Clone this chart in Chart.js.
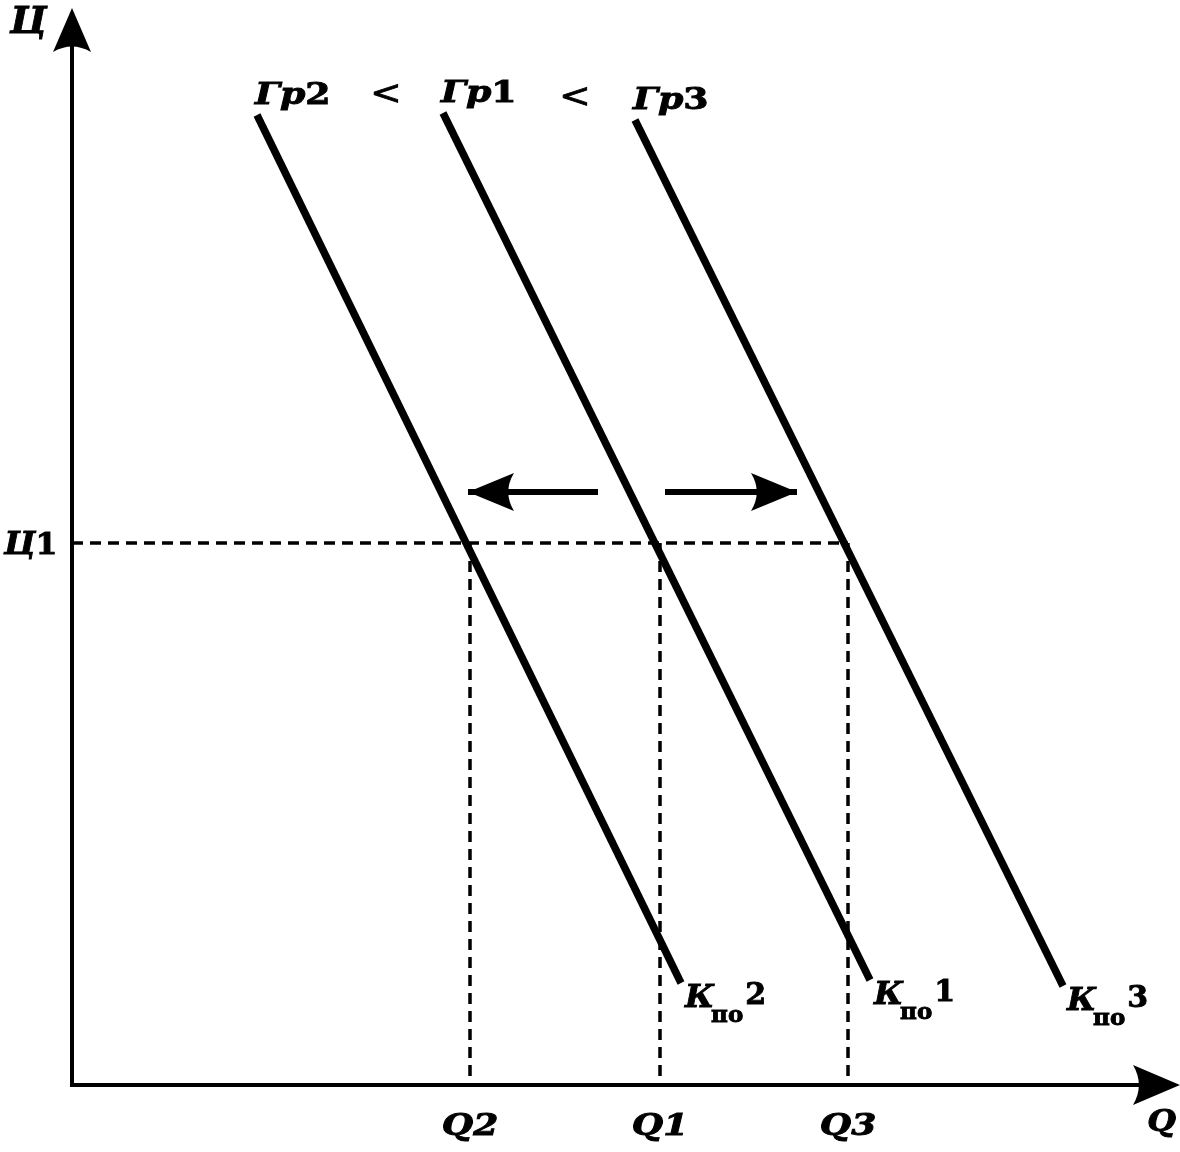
<!DOCTYPE html>
<html><head><meta charset="utf-8">
<script src="https://cdn.jsdelivr.net/npm/chart.js@4/dist/chart.umd.min.js"></script>
<style>html,body{margin:0;padding:0;background:#fff}#wrap{width:1180px;height:1152px;position:relative}</style>
</head><body><div id="wrap"><canvas id="c"></canvas></div>
<script>
// ---- data ----
const curveNames = ['Гр2', 'Гр1', 'Гр3'];
const curveIndex = ['2', '1', '3'];
const curveStartQ = [18.5, 37.1, 56.3];
const curveStartP = [97.0, 97.2, 96.5];
const curveEndQ = [60.9, 79.8, 99.1];
const curveEndP = [10.2, 10.5, 9.9];
const priceLevel = 54.2;
const priceLabel = 'Ц1';
const quantityValues = [39.8, 58.8, 77.6];
const quantityLabels = ['Q2', 'Q1', 'Q3'];
const shiftArrowP = 59.3;
const shiftArrowFrom = [52.6, 59.3];
const shiftArrowTo = [39.6, 72.5];
const axisTitleY = 'Ц';
const axisTitleX = 'Q';
const compareSign = '<';
const curveMarkK = 'К';
const curveMarkSub = 'по';

const BLACK = '#000';
const FONT = '"DejaVu Serif", serif';

const datasets = [];
datasets.push({data: [{x: 0, y: priceLevel}, {x: Math.max(...quantityValues), y: priceLevel}],
  borderColor: BLACK, borderWidth: 3.5, borderDash: [11, 7], pointRadius: 0, showLine: true});
quantityValues.forEach(q => datasets.push({data: [{x: q, y: priceLevel}, {x: q, y: 0}],
  borderColor: BLACK, borderWidth: 3.5, borderDash: [11, 7], pointRadius: 0, showLine: true}));
curveNames.forEach((n, i) => datasets.push({label: n,
  data: [{x: curveStartQ[i], y: curveStartP[i]}, {x: curveEndQ[i], y: curveEndP[i]}],
  borderColor: BLACK, borderWidth: 7.5, pointRadius: 0, showLine: true, borderCapStyle: 'butt'}));
shiftArrowFrom.forEach((f, i) => datasets.push({data: [{x: f, y: shiftArrowP}, {x: shiftArrowTo[i], y: shiftArrowP}],
  borderColor: BLACK, borderWidth: 6, pointRadius: 0, showLine: true}));

function head(ctx, tx, ty, dx, dy, len, half) {
  const bx = tx - dx * len, by = ty - dy * len;
  ctx.beginPath();
  ctx.moveTo(tx, ty);
  ctx.lineTo(bx - dy * half, by + dx * half);
  ctx.quadraticCurveTo(bx + dx * len * 0.25, by + dy * len * 0.25, bx + dy * half, by - dx * half);
  ctx.closePath();
  ctx.fill();
}

function txt(ctx, s, x, y, font, sx, align) {
  ctx.font = font;
  const w = ctx.measureText(s).width * sx;
  const x0 = align === 'center' ? x - w / 2 : align === 'right' ? x - w : x;
  ctx.save();
  ctx.translate(x0, y); ctx.scale(sx, 1);
  ctx.textAlign = 'left'; ctx.textBaseline = 'alphabetic';
  ctx.fillText(s, 0, 0);
  ctx.lineWidth = 0.9; ctx.strokeText(s, 0, 0);
  ctx.restore();
  return w;
}

const decor = {
  id: 'decor',
  afterDatasetsDraw(chart) {
    const ctx = chart.ctx, xs = chart.scales.x, ys = chart.scales.y;
    const X = v => xs.getPixelForValue(v), Y = v => ys.getPixelForValue(v);
    ctx.save();
    ctx.fillStyle = BLACK; ctx.strokeStyle = BLACK;
    // axes
    const ox = X(0), oy = Y(0);
    ctx.lineWidth = 4; ctx.lineCap = 'butt';
    ctx.beginPath(); ctx.moveTo(ox, oy + 2); ctx.lineTo(ox, Y(ys.max) + 30); ctx.stroke();
    ctx.beginPath(); ctx.moveTo(ox - 2, oy); ctx.lineTo(X(xs.max) - 30, oy); ctx.stroke();
    head(ctx, ox, Y(ys.max) - 2, 0, -1, 44, 19);
    head(ctx, X(xs.max) + 8, oy, 1, 0, 47, 20);
    // shift arrow heads
    shiftArrowTo.forEach((t, i) => {
      const d = Math.sign(t - shiftArrowFrom[i]);
      head(ctx, X(t), Y(shiftArrowP), d, 0, 46, 19);
    });
    // axis titles
    txt(ctx, axisTitleY, 10, 33, 'italic bold 38px ' + FONT, 1.0, 'left');
    txt(ctx, axisTitleX, X(xs.max) + 4, oy + 46, 'italic bold 30px ' + FONT, 1.1, 'right');
    // curve titles with comparison signs
    const ends = [];
    curveNames.forEach((n, i) => {
      const x0 = X(curveStartQ[i]) - 2, base = Y(curveStartP[i]) - 11;
      const w1 = txt(ctx, n.slice(0, -1), x0, base, 'italic bold 29px ' + FONT, 1.25, 'left');
      const w2 = txt(ctx, n.slice(-1), x0 + w1, base, 'bold 29px ' + FONT, 1.25, 'left');
      ends.push([x0, x0 + w1 + w2, base]);
    });
    for (let i = 0; i < ends.length - 1; i++) {
      txt(ctx, compareSign, (ends[i][1] + ends[i + 1][0]) / 2, (ends[i][2] + ends[i + 1][2]) / 2 + 1, '34px ' + FONT, 1.1, 'center');
    }
    // price label
    const py = Y(priceLevel) + 11;
    const wc = txt(ctx, priceLabel.slice(0, 1), 4, py, 'italic bold 31px ' + FONT, 1.05, 'left');
    txt(ctx, priceLabel.slice(1), 4 + wc, py, 'bold 30px ' + FONT, 1.05, 'left');
    // quantity labels
    quantityValues.forEach((q, i) => txt(ctx, quantityLabels[i], X(q), oy + 50, 'italic bold 30px ' + FONT, 1.2, 'center'));
    // curve end labels K_по n
    curveIndex.forEach((n, i) => {
      const x0 = X(curveEndQ[i]) + 4, base = Y(curveEndP[i]) + 24;
      let x = x0 + txt(ctx, curveMarkK, x0, base, 'italic bold 32px ' + FONT, 1.0, 'left') - 3;
      x += txt(ctx, curveMarkSub, x, base + 15, 'bold 23px ' + FONT, 1.0, 'left') + 2;
      txt(ctx, n, x, base - 3, 'bold 30px ' + FONT, 1.0, 'left');
    });
    ctx.restore();
  }
};

new Chart(document.getElementById('c'), {
  type: 'scatter',
  data: {datasets},
  options: {
    responsive: true, maintainAspectRatio: false, animation: false,
    layout: {padding: {left: 72, right: 8, top: 10, bottom: 67}},
    plugins: {legend: {display: false}, tooltip: {enabled: false}},
    scales: {
      x: {type: 'linear', min: 0, max: 110, display: false},
      y: {type: 'linear', min: 0, max: 107.5, display: false}
    }
  },
  plugins: [decor]
});
</script></body></html>
